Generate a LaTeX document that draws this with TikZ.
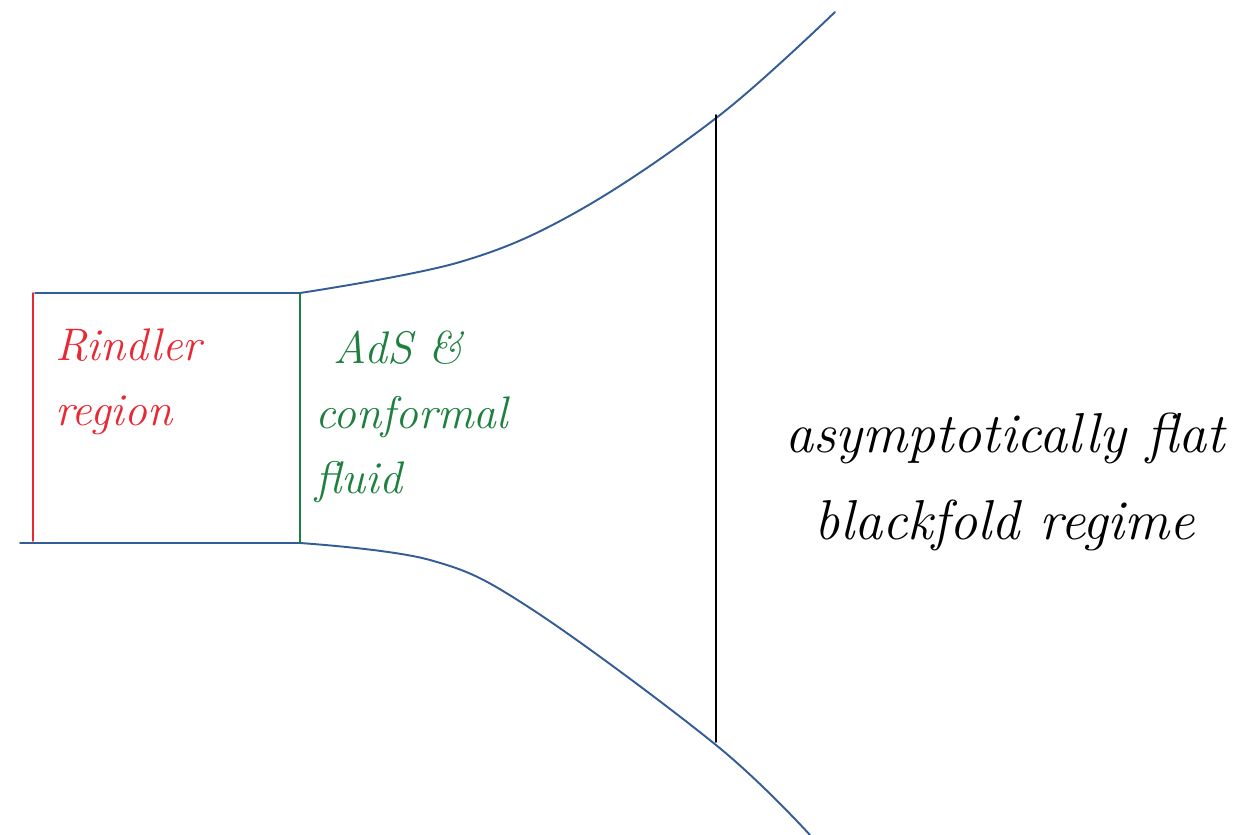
\documentclass[tikz,border=0pt]{standalone}
\usetikzlibrary{calc}
\definecolor{sketchblue}{RGB}{52,92,150}
\definecolor{sketchred}{RGB}{232,40,52}
\definecolor{sketchgreen}{RGB}{30,128,62}
\begin{document}
\begin{tikzpicture}[x=0.02cm,y=-0.02cm,
  boundary/.style={draw=sketchblue,line width=1.1pt,line cap=round},
  wall/.style={line width=1.1pt,line cap=round},
  lbl/.style={font=\fontsize{26}{31}\selectfont\itshape,align=left,inner sep=0pt}]
\useasboundingbox (0,0) rectangle (1252,835);
% boundaries
\draw[boundary] (35,293) -- (300,293);
\draw[boundary] plot[smooth,tension=0.6] coordinates
  {(300,293) (460,262) (580,210) (720,115) (835,12)};
\draw[boundary] (20,543) -- (300,543);
\draw[boundary] plot[smooth,tension=0.6] coordinates
  {(300,543) (430,560) (530,608) (716,745) (810,835)};
% walls
\draw[wall,sketchred] (33,293) -- (33,541);
\draw[wall,sketchgreen] (300,293) -- (300,543);
\draw[wall,black] (716,115) -- (716,742);
% labels
\node[lbl,text=sketchred,anchor=north west] (rindler) at (55,328) {Rindler\\[6pt]region};
\node[lbl,text=sketchgreen,anchor=north west] (ads) at (315,330) {\hspace*{0.4em}AdS \&\\[6pt]conformal\\[6pt]fluid};
\node[lbl,font=\fontsize{32}{38}\selectfont\itshape,text=black,anchor=center,align=center] (flat) at (1005,482) {asymptotically flat\\[12pt]blackfold regime};
\end{tikzpicture}
\end{document}
